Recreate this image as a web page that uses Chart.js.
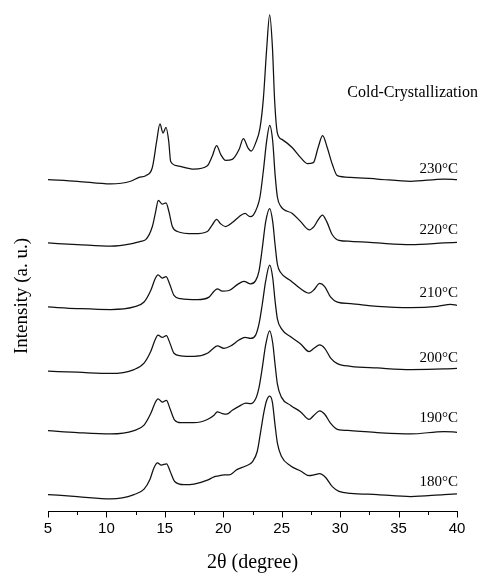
<!DOCTYPE html>
<html>
<head>
<meta charset="utf-8">
<script src="https://cdn.jsdelivr.net/npm/chart.js@4/dist/chart.umd.min.js"></script>
<style>
  html, body { margin: 0; padding: 0; background: #fff; }
  #wrap { width: 480px; height: 573px; }
</style>
</head>
<body>
<div id="wrap"><canvas id="c" width="480" height="573"></canvas></div>
<script>
// XRD patterns after cold crystallization at different temperatures.
// Each pattern: 2θ positions and intensity above its own baseline (a.u.);
// patterns are stacked by the vertical offsets below.
const temps = [230, 220, 210, 200, 190, 180];
const offsets = [330, 268, 204, 138, 77, 12];

const theta230 = [5.0, 7.51, 10.36, 12.07, 12.79, 13.36, 13.93, 14.30, 14.58, 14.84, 15.10, 15.33, 15.50, 16.07, 17.49, 18.64, 19.06, 19.43, 19.78, 20.20, 20.77, 21.35, 21.72, 22.11, 22.40, 22.77, 23.14, 23.43, 23.71, 23.97, 24.20, 24.40, 24.63, 25.05, 25.91, 26.62, 27.19, 27.71, 28.11, 28.50, 28.90, 29.33, 29.76, 30.90, 33.18, 36.04, 38.89, 40.0];
const int230 = [6.7, 5, 2.3, 5, 9, 10.7, 19, 45.7, 63.3, 54, 59.7, 45.7, 25, 20.7, 17.3, 20.7, 30.7, 41.3, 32.3, 26.3, 27.3, 37.3, 48.3, 39, 35.7, 44, 59, 89, 139, 174, 142.3, 85.7, 54, 47.3, 39, 29, 23, 24, 39, 51.3, 39, 22.3, 10.7, 9, 7.3, 5, 7.3, 6.7];

const theta220 = [5.0, 7.51, 10.36, 12.07, 12.93, 13.36, 13.93, 14.21, 14.44, 14.78, 15.10, 15.35, 15.64, 16.07, 17.49, 18.64, 19.06, 19.43, 19.78, 20.20, 20.77, 21.35, 21.86, 22.29, 22.57, 22.91, 23.14, 23.43, 23.71, 23.97, 24.23, 24.43, 24.63, 24.91, 25.91, 26.62, 27.34, 27.76, 28.11, 28.48, 28.85, 29.33, 29.90, 30.90, 33.18, 36.04, 38.89, 40.0];
const int220 = [4.3, 2.7, 1, 3.3, 6, 7.7, 21, 36, 47.7, 43.7, 45, 36, 21, 16, 13.7, 16, 22.7, 28.3, 23.7, 21, 25, 31, 34.3, 31, 32.7, 41, 51, 77.7, 107.7, 123.7, 107.7, 74.3, 51, 41.7, 34.3, 26, 17.7, 21, 27.7, 32.7, 26, 12.7, 7, 6, 4.3, 2.7, 4.3, 5];

const theta210 = [5.0, 7.51, 10.36, 12.36, 13.22, 13.79, 14.16, 14.41, 14.78, 15.10, 15.41, 15.78, 16.35, 17.78, 18.78, 19.21, 19.49, 19.92, 20.49, 21.20, 21.77, 22.34, 22.77, 23.06, 23.34, 23.63, 23.97, 24.23, 24.43, 24.63, 24.91, 25.77, 26.62, 27.34, 27.76, 28.25, 28.68, 29.19, 29.76, 30.90, 33.18, 36.04, 38.32, 39.46, 40.0];
const int210 = [3.3, 1.7, 0.7, 3.3, 8.3, 20, 31.7, 36, 32.7, 34, 26.7, 15, 11.7, 10.7, 13.3, 19.3, 21.7, 19.3, 20, 26, 29.3, 26.7, 30, 40, 63.3, 90, 103.3, 90, 66.7, 46.7, 38.3, 30, 21.7, 17.3, 20.7, 27.3, 24, 13.3, 8.3, 6.7, 4, 2.7, 4, 6, 5];

const theta200 = [5.0, 7.51, 10.36, 12.36, 13.22, 13.79, 14.16, 14.41, 14.78, 15.13, 15.44, 15.78, 16.35, 17.49, 18.64, 19.06, 19.49, 20.06, 20.63, 21.35, 21.86, 22.34, 22.77, 23.06, 23.34, 23.63, 23.97, 24.23, 24.43, 24.63, 24.97, 25.77, 26.62, 27.34, 27.76, 28.25, 28.68, 29.19, 29.76, 30.90, 33.18, 36.04, 38.89, 40.0];
const int200 = [4, 3, 1.7, 5.7, 12.3, 24, 35.7, 40.7, 38.3, 40.3, 32.3, 22.3, 19.7, 19, 22.3, 26.3, 29.7, 27.3, 29.7, 35.7, 38.3, 37.3, 40.7, 52.3, 72.3, 95.7, 111.7, 99, 75.7, 57.3, 47.3, 39, 31.7, 24, 27.3, 30.7, 27.3, 17.3, 11.7, 9, 7.3, 5.7, 6.3, 7];

const theta190 = [5.0, 7.51, 10.36, 12.36, 13.22, 13.79, 14.16, 14.41, 14.78, 15.13, 15.44, 15.84, 16.35, 17.49, 18.64, 19.21, 19.49, 19.92, 20.29, 20.77, 21.49, 21.92, 22.34, 22.77, 23.06, 23.34, 23.63, 23.97, 24.23, 24.43, 24.63, 24.97, 25.77, 26.62, 27.34, 27.76, 28.25, 28.68, 29.19, 29.76, 30.90, 33.18, 36.04, 38.89, 40.0];
const int190 = [4.7, 2.7, 1.3, 4.7, 10.3, 22, 32.7, 37, 33.7, 35.3, 27, 15.3, 12.7, 12.7, 16, 20.3, 23.7, 22, 21.3, 25.3, 30.3, 32.7, 32, 37, 48.7, 68.7, 92, 106, 93.7, 72, 52, 38.7, 30.3, 23.7, 16, 20.3, 24.7, 21.3, 12, 6, 4.7, 2.7, 1.3, 3.7, 3];

const theta180 = [5.0, 7.51, 10.36, 12.36, 13.22, 13.73, 14.07, 14.36, 14.70, 15.15, 15.44, 15.84, 16.64, 17.49, 18.64, 19.21, 19.63, 20.06, 20.49, 21.20, 21.92, 22.49, 22.91, 23.20, 23.48, 23.71, 23.97, 24.20, 24.43, 24.63, 24.97, 25.77, 26.62, 27.34, 27.76, 28.25, 28.76, 29.33, 29.90, 30.90, 33.18, 36.04, 38.89, 40.0];
const int180 = [4.7, 2.7, 0.3, 4.7, 10.3, 20.3, 32, 37, 34.7, 36, 28.7, 18, 14.7, 15.3, 19.3, 22.7, 23.7, 24.7, 24.7, 30.3, 33.7, 38, 48.7, 68.7, 88.7, 100.3, 104.7, 98.7, 75.3, 57, 43.7, 33.7, 28.7, 24, 24.7, 26, 22, 12.7, 8, 6, 4.7, 2.7, 4.7, 5.3];

// x-axis ticks
const tickMin = 5, tickMax = 40, majorStep = 5, minorStep = 2.5;

const thetas = [theta230, theta220, theta210, theta200, theta190, theta180];
const intensities = [int230, int220, int210, int200, int190, int180];

const datasets = temps.map((t, i) => ({
  label: t + '°C',
  data: thetas[i].map((th, k) => ({ x: th, y: intensities[i][k] + offsets[i] })),
  borderColor: '#111',
  borderWidth: 1.25,
  pointRadius: 0,
  fill: false,
  cubicInterpolationMode: 'monotone'
}));

const serif = '"Liberation Serif", "Times New Roman", serif';
const sans = '"Liberation Sans", Arial, sans-serif';

const decor = {
  id: 'decor',
  afterDraw(chart) {
    const { ctx, scales: { x, y } } = chart;
    const base = Math.round(x.top) + 0.5;
    ctx.save();
    // tick marks below the axis line: long at majors, short at minors
    ctx.strokeStyle = '#000';
    ctx.lineWidth = 1;
    for (let v = tickMin; v <= tickMax + 1e-9; v += minorStep) {
      const px = Math.round(x.getPixelForValue(v)) + 0.5;
      const isMajor = Math.abs(v / majorStep - Math.round(v / majorStep)) < 1e-6;
      ctx.beginPath();
      ctx.moveTo(px, base);
      ctx.lineTo(px, base + (isMajor ? 6 : 3.5));
      ctx.stroke();
    }
    // temperature label beside each pattern
    ctx.fillStyle = '#000';
    ctx.font = '15px ' + serif;
    ctx.textAlign = 'right';
    ctx.textBaseline = 'middle';
    temps.forEach((t, i) => {
      ctx.fillText(t + '°C', x.getPixelForValue(tickMax) + 1, y.getPixelForValue(offsets[i] + 17));
    });
    // heading
    ctx.font = '16px ' + serif;
    ctx.fillText('Cold-Crystallization', 478, 93);
    // y-axis title
    ctx.translate(22, 296);
    ctx.rotate(-Math.PI / 2);
    ctx.textAlign = 'center';
    ctx.font = '19px ' + serif;
    ctx.fillText('Intensity (a. u.)', 0, 0);
    ctx.restore();
  }
};

new Chart(document.getElementById('c'), {
  type: 'line',
  data: { datasets },
  options: {
    responsive: false,
    animation: false,
    devicePixelRatio: 1,
    layout: { padding: { left: 48, right: 23, top: 10, bottom: 0 } },
    plugins: { legend: { display: false }, tooltip: { enabled: false } },
    scales: {
      x: {
        type: 'linear',
        min: tickMin,
        max: tickMax,
        grid: { display: false, drawTicks: false, tickLength: 0 },
        border: { display: true, color: '#000', width: 1 },
        ticks: { stepSize: majorStep, padding: 9, color: '#000', font: { family: sans, size: 15 } },
        title: {
          display: true,
          text: '2θ (degree)',
          color: '#000',
          font: { family: serif, size: 20, lineHeight: 1 },
          padding: { top: 6, bottom: 0 }
        }
      },
      y: { display: false, min: 0, max: 509 }
    }
  },
  plugins: [decor]
});
</script>
</body>
</html>
